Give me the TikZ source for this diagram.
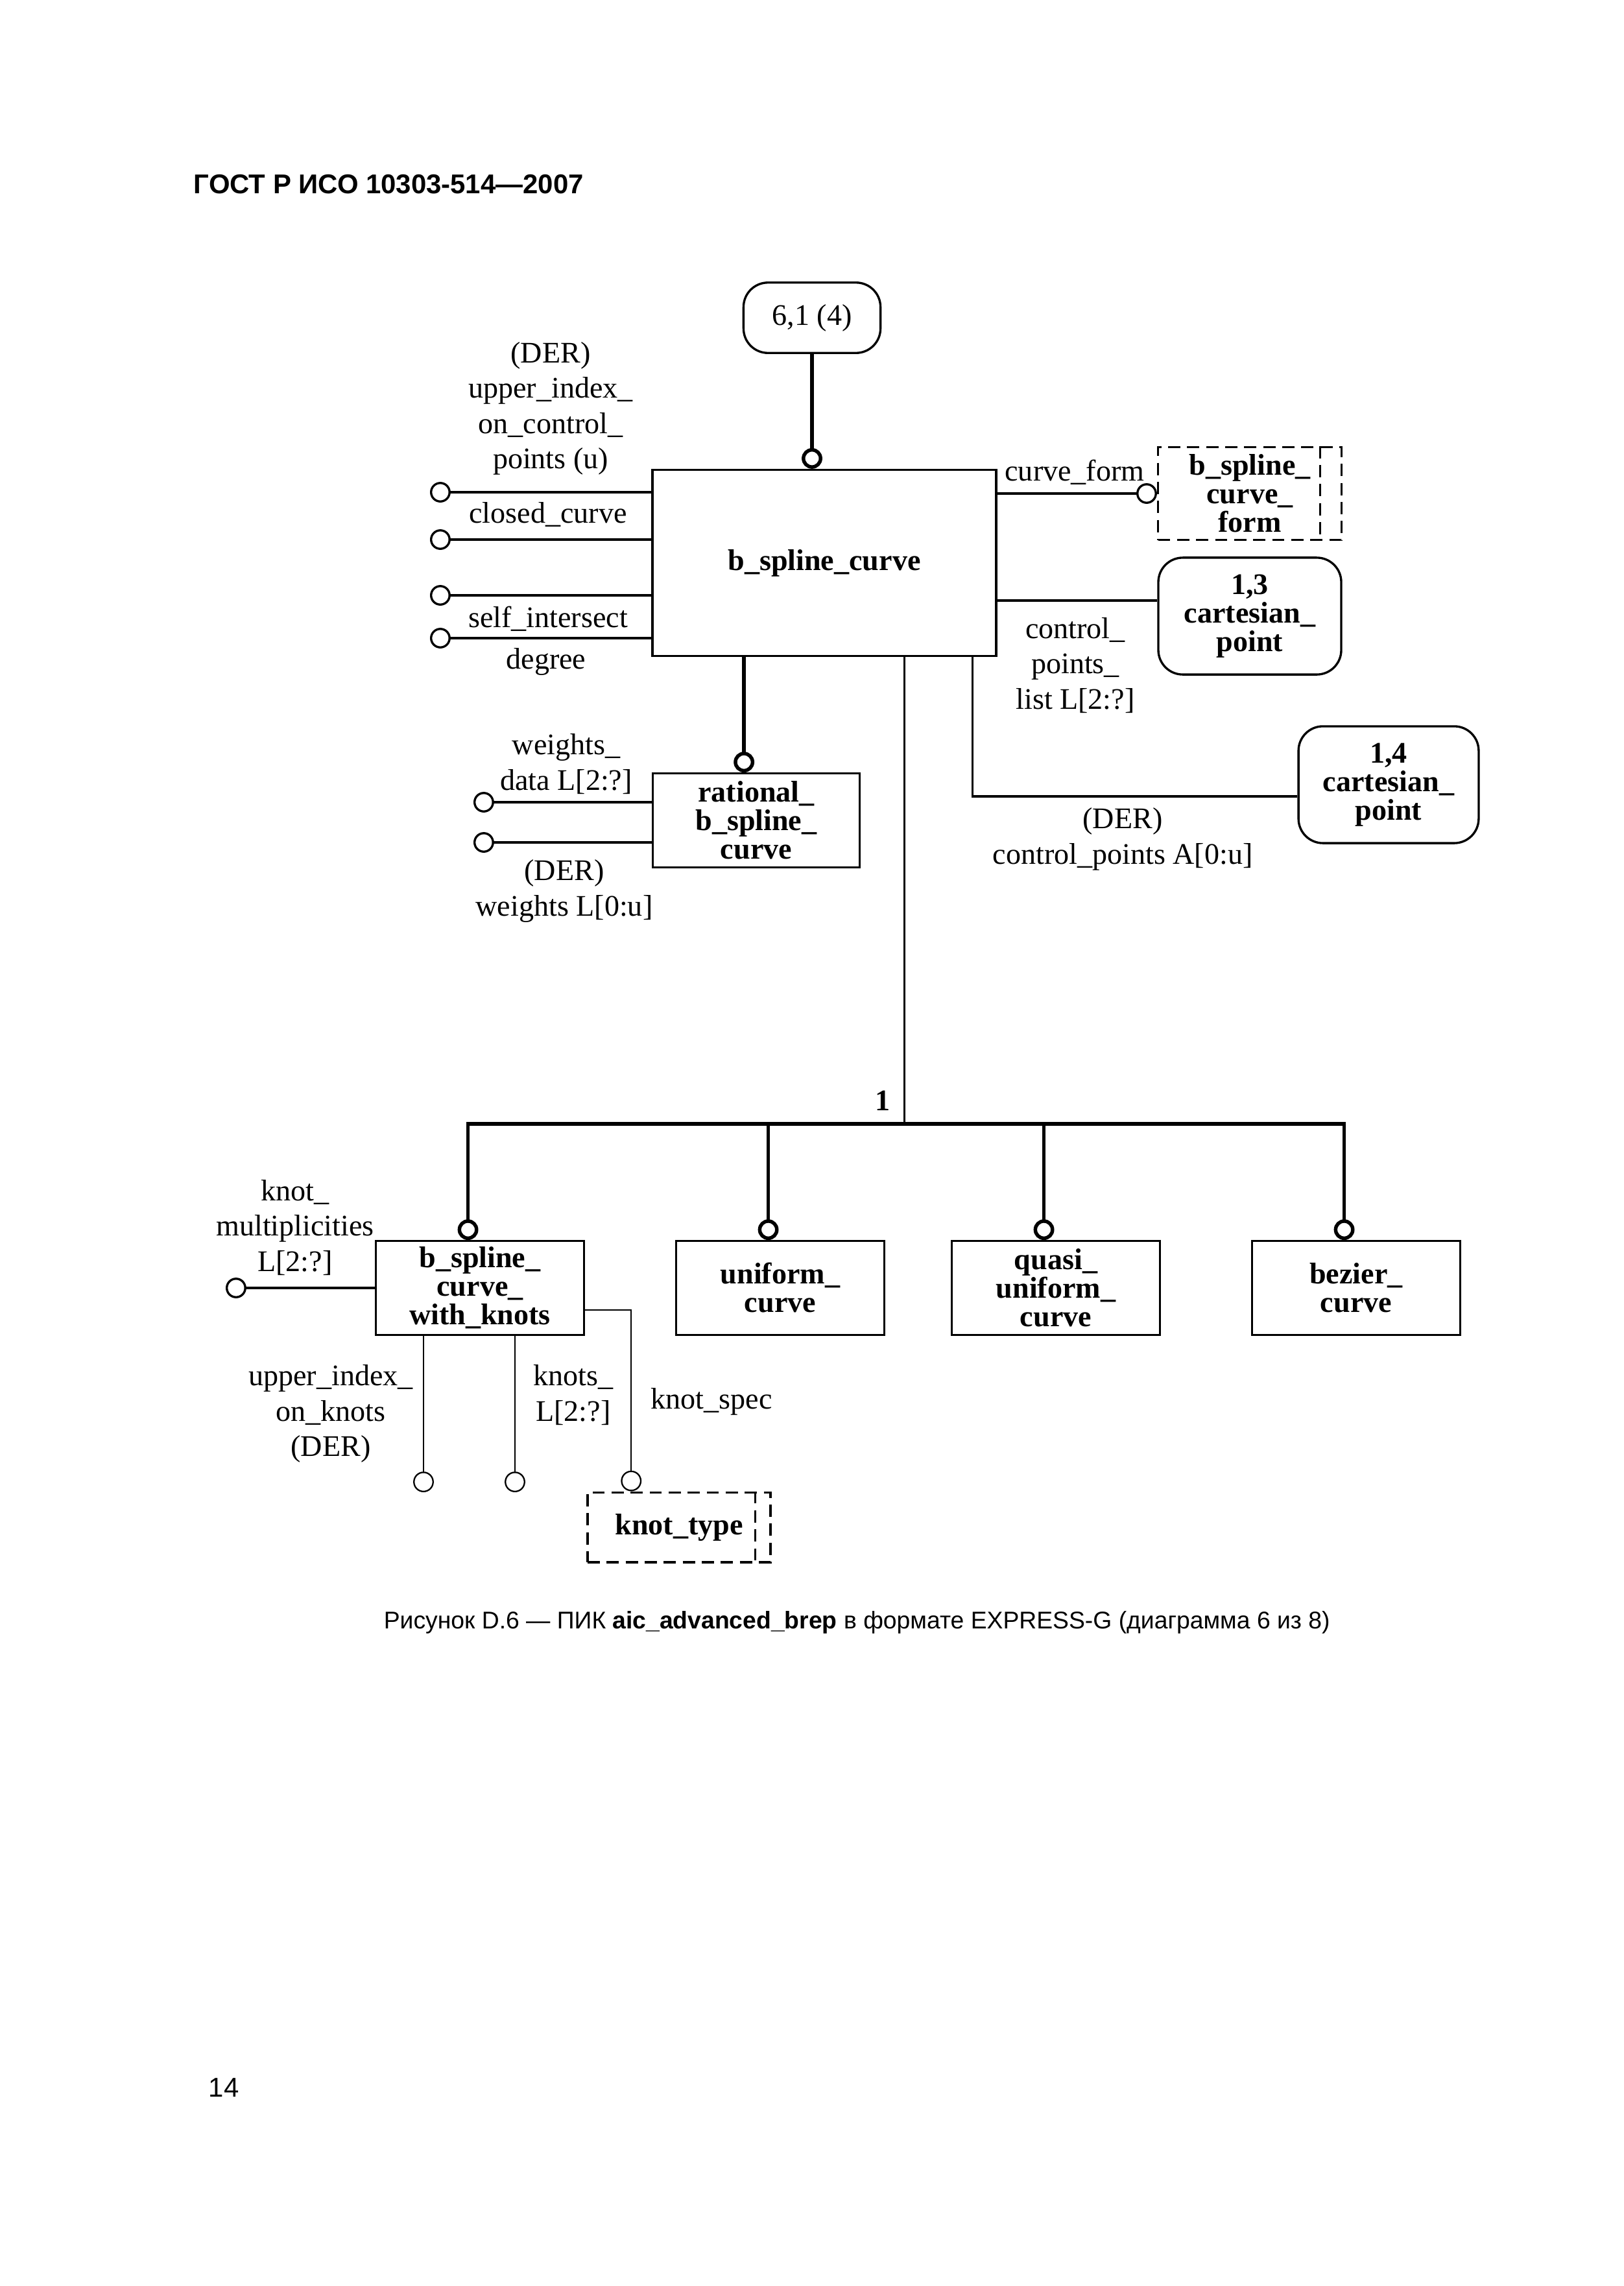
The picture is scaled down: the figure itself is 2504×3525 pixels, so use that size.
\documentclass[tikz,border=0pt]{standalone}
\usepackage{fontspec}
\setmainfont{Liberation Serif}
\newfontfamily\gostfont{Liberation Sans}
\usepackage{tikz}
\usetikzlibrary{
    positioning,
    arrows.meta,
    calc
}

\begin{document}
\begin{tikzpicture}[x=0.08387mm, y=-0.08387mm,
    font=\fontsize{11}{13}\selectfont,
    ent/.style={draw, line width=0.8pt, align=center, inner sep=0pt,
                font=\fontsize{11}{10.5}\selectfont\bfseries},
    sbox/.style={ent, minimum width=76.6pt, minimum height=34.5pt},
    typ/.style={ent, dash pattern=on 4.5pt off 2.5pt},
    typline/.style={line width=0.8pt, dash pattern=on 4.5pt off 2.5pt},
    pref/.style={ent, rounded corners=9pt},
    lab/.style={align=center, inner sep=0pt},
    attr/.style={line width=0.8pt},
    lite/.style={line width=0.55pt},
    sub/.style={line width=1.3pt},
    oc/.style={-{Circle[open, length=7.6pt, width=7.6pt]}}]

    \useasboundingbox (0,0) rectangle (2504,3525);

    % ============ page header ============
    \node[anchor=west, inner sep=0pt, font=\gostfont\bfseries\fontsize{10}{12}\selectfont] (hdr) at (298,284)
      {ГОСТ Р ИСО 10303-514—2007};

    % ============ TOP: b_spline_curve and its attributes ============
    \node[pref, font=\fontsize{11}{13}\selectfont, minimum width=50.4pt, minimum height=25.9pt] (ref61) at (1252,490)
      {6,1 (4)};
    \node[ent, minimum width=126.5pt, minimum height=68.5pt] (bsc) at (1271,868)
      {b\_spline\_curve};

    \node[typ, minimum width=67.5pt, minimum height=34.2pt] (bscf) at (1927,761)
      {b\_spline\_\\curve\_\\form};
    \draw[typline] ([xshift=-8.3pt]bscf.north east) -- ([xshift=-8.3pt]bscf.south east);

    \node[pref, minimum width=67.3pt, minimum height=43pt] (cp13) at (1927,950)
      {1,3\\cartesian\_\\point};
    \node[pref, minimum width=66.3pt, minimum height=43pt] (cp14) at (2141,1210)
      {1,4\\cartesian\_\\point};

    \draw[sub, oc] (ref61.south) -- (ref61.south |- bsc.north);

    % free attribute ends on the left
    \coordinate (uicp) at (663,759);
    \coordinate (clcv) at (663,832);
    \coordinate (slfi) at (663,918);
    \coordinate (dgr)  at (663,984);
    \foreach \a in {uicp,clcv,slfi,dgr}
      \draw[attr, oc] (bsc.west |- \a) -- (\a);

    \node[lab] (uicpl) at (849,630) {(DER)\\upper\_index\_\\on\_control\_\\points (u)};
    \node[lab] (clcvl) at (845,793) {closed\_curve};
    \node[lab] (slfil) at (845,954) {self\_intersect};
    \node[lab] (dgrl)  at (842,1020) {degree};

    % attributes on the right
    \draw[attr, oc] (bsc.east |- bscf.west) -- (bscf.west);
    \node[lab] (cfl) at (1657,728) {curve\_form};

    \coordinate (cpl) at ([yshift=5.7pt]cp13.west);
    \draw[attr] (bsc.east |- cpl) -- (cpl);
    \node[lab] (cpll) at (1658,1026) {control\_\\points\_\\list L[2:?]};

    \coordinate (cpa) at ([yshift=-4.3pt]cp14.west);
    \draw[attr] ([xshift=54.5pt]bsc.south) |- (cpa);
    \node[lab] (cpal) at (1731,1294) {(DER)\\control\_points A[0:u]};

    % ============ rational_b_spline_curve ============
    \node[ent, minimum width=76.1pt, minimum height=34.5pt] (rbsc) at (1166,1265)
      {rational\_\\b\_spline\_\\curve};
    \coordinate (rin) at ([xshift=-4.5pt]rbsc.north);
    \draw[sub, oc] (rin |- bsc.south) -- (rin);

    \coordinate (wdc) at (730,1237);
    \coordinate (wc)  at (730,1299);
    \draw[attr, oc] (rbsc.west |- wdc) -- (wdc);
    \draw[attr, oc] (rbsc.west |- wc) -- (wc);
    \node[lab] (wdl) at (873,1178) {weights\_\\data L[2:?]};
    \node[lab] (wl)  at (870,1374) {(DER)\\weights L[0:u]};

    % ============ ONEOF subtype tree ============
    \node[sbox] (bswk)  at (740,1986)  {b\_spline\_\\curve\_\\with\_knots};
    \node[sbox] (unif)  at (1203,1986) {uniform\_\\curve};
    \node[sbox] (quasi) at (1628,1986) {quasi\_\\uniform\_\\curve};
    \node[sbox] (bez)   at (2091,1986) {bezier\_\\curve};

    \coordinate (tree) at ([xshift=29.5pt]bsc.south |- 0,1733);
    \draw[lite] (tree |- bsc.south) -- (tree);
    \foreach \b in {bswk,unif,quasi,bez}{
      \coordinate (\b-in) at ([xshift=-4.4pt]\b.north);
      \draw[sub, oc] (\b-in |- tree) -- (\b-in);
    }
    \draw[sub, line cap=rect] (bswk-in |- tree) -- (bez-in |- tree);
    \node[lab, font=\fontsize{11}{13}\selectfont\bfseries] (one) at (1361,1697) {1};

    % ============ b_spline_curve_with_knots attributes ============
    \node[typ, minimum width=67.3pt, minimum height=25.7pt] (ktype) at (1047,2355) {knot\_type};
    \draw[typline] ([xshift=-6pt]ktype.north east) -- ([xshift=-6pt]ktype.south east);

    \coordinate (kmc) at (348,1986);
    \draw[attr, oc] (bswk.west) -- (kmc);
    \coordinate (uik) at (653,2301);
    \coordinate (kn)  at (794,2301);
    \draw[lite, oc] (bswk.south -| uik) -- (uik);
    \draw[lite, oc] (bswk.south -| kn) -- (kn);
    \coordinate (ksin) at ([xshift=-17.6pt]ktype.north);
    \draw[lite, oc] ([yshift=-8.1pt]bswk.east) -| (ksin);

    \node[lab] (kml)  at (455,1893)  {knot\_\\multiplicities\\L[2:?]};
    \node[lab] (uikl) at (510,2180)  {upper\_index\_\\on\_knots\\(DER)};
    \node[lab] (knl)  at (884,2151)  {knots\_\\L[2:?]};
    \node[lab] (ksl)  at (1097,2161) {knot\_spec};

    % ============ caption and page number ============
    \node[anchor=west, inner sep=0pt, font=\gostfont\fontsize{8.9}{11}\selectfont] (cap) at (591,2502)
      {Рисунок D.6 — ПИК \textbf{aic\_advanced\_brep} в формате EXPRESS-G (диаграмма 6 из 8)};
    \node[anchor=west, inner sep=0pt, font=\gostfont\fontsize{10}{12}\selectfont] (pg) at (321,3219) {14};

\end{tikzpicture}
\end{document}
